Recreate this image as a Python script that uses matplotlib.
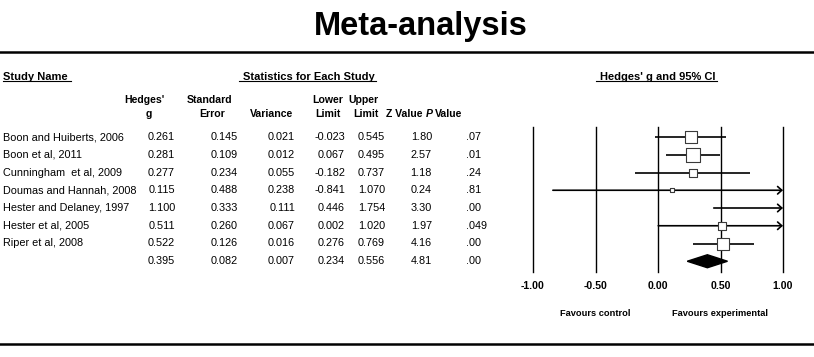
import numpy as np
import matplotlib
matplotlib.use("Agg")
import matplotlib.pyplot as plt
import matplotlib.transforms as mtransforms
from matplotlib.lines import Line2D

plt.rcParams['font.family'] = ['Liberation Sans', 'DejaVu Sans']

# ---------------- data ----------------
studies = ["Boon and Huiberts, 2006", "Boon et al, 2011", "Cunningham  et al, 2009",
           "Doumas and Hannah, 2008", "Hester and Delaney, 1997", "Hester et al, 2005",
           "Riper et al, 2008", ""]
hedges_g = [0.261, 0.281, 0.277, 0.115, 1.100, 0.511, 0.522, 0.395]
std_err = [0.145, 0.109, 0.234, 0.488, 0.333, 0.260, 0.126, 0.082]
variance = [0.021, 0.012, 0.055, 0.238, 0.111, 0.067, 0.016, 0.007]
lower = [-0.023, 0.067, -0.182, -0.841, 0.446, 0.002, 0.276, 0.234]
upper = [0.545, 0.495, 0.737, 1.070, 1.754, 1.020, 0.769, 0.556]
z_value = [1.80, 2.57, 1.18, 0.24, 3.30, 1.97, 4.16, 4.81]
p_value = [0.07, 0.01, 0.24, 0.81, 0.00, 0.049, 0.00, 0.00]
axis_ticks = [-1.0, -0.5, 0.0, 0.5, 1.0]
tau2 = 0.0115  # between-study variance used for random-effects box weights

# ---------------- layout (pixels) ----------------
W, H = 814, 357
def fx(px):
    return px / W
def fy(py):
    return 1 - py / H

ROW0, STEP = 137.0, 17.75
PL, PR, PT, PB = 533, 783, 127, 272

fig = plt.figure(figsize=(W / 100, H / 100), dpi=100)
ax = fig.add_axes([fx(PL), fy(PB), (PR - PL) / W, (PB - PT) / H])
ax.patch.set_alpha(0)
xmin, xmax = axis_ticks[0], axis_ticks[-1]
ax.set_xlim(xmin, xmax)
ax.set_ylim((PB - ROW0) / STEP, (PT - ROW0) / STEP)
for s in ax.spines.values():
    s.set_visible(False)
ax.set_yticks([])
ax.set_xticks(axis_ticks, labels=[f"{t:.2f}" for t in axis_ticks])
ax.tick_params(axis='x', length=0, pad=6.2, labelsize=7.6)
for lbl in ax.get_xticklabels():
    lbl.set_fontweight('bold')

for t in axis_ticks:
    ax.axvline(t, color='black', lw=1.0, clip_on=False, zorder=1)

n = len(hedges_g)
summary = n - 1
for i in range(n - 1):
    lo_c = max(lower[i], xmin)
    hi_c = min(upper[i], xmax)
    if upper[i] > xmax:
        ax.annotate('', xy=(xmax, i), xytext=(lo_c, i), annotation_clip=False,
                    arrowprops=dict(arrowstyle='->,head_length=0.3,head_width=0.27',
                                    lw=1.2, color='black', shrinkA=0, shrinkB=0,
                                    mutation_scale=10), zorder=2)
    else:
        ax.plot([lo_c, hi_c], [i, i], color='black', lw=1.2,
                solid_capstyle='butt', zorder=2)
    if xmin <= hedges_g[i] <= xmax:
        w = 1.0 / (variance[i] + tau2)
        side_pt = 2.0 * np.sqrt(w) * 0.72
        ax.scatter([hedges_g[i]], [i], marker='s', s=side_pt ** 2,
                   facecolor='white', edgecolor='#3a3a3a', linewidth=0.8, zorder=3)

# summary diamond
hh = 6.5 / STEP
g, lo, hi = hedges_g[summary], lower[summary], upper[summary]
ax.fill([lo, g, hi, g], [summary, summary - hh, summary, summary + hh],
        color='black', zorder=3)

# favours labels
tr_fav = mtransforms.blended_transform_factory(ax.transData, fig.transFigure)
ax.text(-0.5, fy(313), "Favours control", transform=tr_fav, ha='center',
        va='center', fontsize=6.7, fontweight='bold')
ax.text(0.5, fy(313), "Favours experimental", transform=tr_fav, ha='center',
        va='center', fontsize=6.7, fontweight='bold')

# ---------------- table ----------------
tr = mtransforms.blended_transform_factory(fig.transFigure, ax.transData)
FS = 7.8

def pfmt(p):
    s = '%.2f' % p if round(p, 2) == p else '%.3f' % p
    return s[1:]

cols = [(175, hedges_g, '%.3f'), (238, std_err, '%.3f'), (295, variance, '%.3f'),
        (345, lower, '%.3f'), (385, upper, '%.3f'), (432, z_value, '%.2f')]
for i in range(n):
    if studies[i]:
        fig.text(fx(3), i, studies[i], transform=tr, ha='left', va='center', fontsize=FS)
    for xr, vals, fmt in cols:
        fig.text(fx(xr), i, fmt % vals[i], transform=tr, ha='right', va='center', fontsize=FS)
    fig.text(fx(466), i, pfmt(p_value[i]), transform=tr, ha='left', va='center', fontsize=FS)

# column headers
HB = dict(fontsize=7.6, fontweight='bold', va='center')
Y1, Y2 = 100, 114
fig.text(fx(144), fy(Y1), "Hedges'", ha='center', **HB)
fig.text(fx(149), fy(Y2), "g", ha='center', **HB)
fig.text(fx(210), fy(Y1), "Standard", ha='center', **HB)
fig.text(fx(212), fy(Y2), "Error", ha='center', **HB)
fig.text(fx(272), fy(Y2), "Variance", ha='center', **HB)
fig.text(fx(328), fy(Y1), "Lower", ha='center', **HB)
fig.text(fx(328), fy(Y2), "Limit", ha='center', **HB)
fig.text(fx(363), fy(Y1), "Upper", ha='center', **HB)
fig.text(fx(366), fy(Y2), "Limit", ha='center', **HB)
fig.text(fx(404), fy(Y2), "Z Value", ha='center', **HB)
fig.text(fx(433), fy(Y2), "P", ha='right', fontstyle='italic', **HB)
fig.text(fx(435), fy(Y2), "Value", ha='left', **HB)

# section headers with underlines
sec = [(3, "Study Name", 'left', 0, 3),
       (243, "Statistics for Each Study", 'left', 4, 1),
       (600, "Hedges' g and 95% CI", 'left', 4, 1)]
fig.canvas.draw()
renderer = fig.canvas.get_renderer()
for x, txt, ha, padl, padr in sec:
    t = fig.text(fx(x), fy(77), txt, ha=ha, va='center', fontsize=8, fontweight='bold')
    bb = t.get_window_extent(renderer)
    yline = bb.y0 + 0.8
    fig.add_artist(Line2D([(bb.x0 - padl) / W, (bb.x1 + padr) / W], [yline / H, yline / H],
                          transform=fig.transFigure, color='black', lw=0.8))

# title and rules
fig.text(fx(420.5), fy(35), "Meta-analysis", ha='center', va='baseline',
         fontsize=23.5, fontweight='bold')
for yr in (52, 344):
    fig.add_artist(Line2D([0.0, 1.0], [fy(yr), fy(yr)], transform=fig.transFigure,
                          color='black', lw=1.8))

fig.savefig("out.png", dpi=100)
